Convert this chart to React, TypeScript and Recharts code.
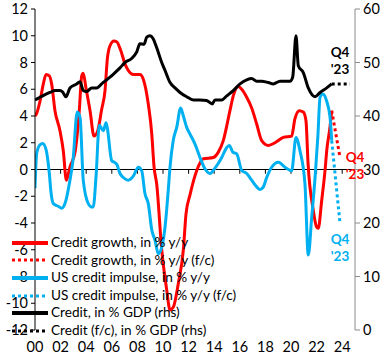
import React from "react";
import { LineChart, Line, XAxis, YAxis, ReferenceLine, ReferenceDot } from "recharts";

const FONT = "Lato, 'Liberation Sans', sans-serif";

const xTicks = [2000, 2002, 2004, 2006, 2008, 2010, 2012, 2014, 2016, 2018, 2020, 2022, 2024];
const xTickLabels = ["00", "02", "04", "06", "08", "10", "12", "14", "16", "18", "20", "22", "24"];
const leftTicks = [-12, -10, -8, -6, -4, -2, 0, 2, 4, 6, 8, 10, 12];
const rightTicks = [0, 10, 20, 30, 40, 50, 60];

// Credit growth, in % y/y (lhs)
const creditGrowth: [number, number][] = [
  [2000.0, 4.0], [2000.13, 4.2], [2000.39, 5.1], [2000.65, 6.4], [2000.86, 7.1], [2001.12, 7.0],
  [2001.3, 6.4], [2001.56, 4.4], [2001.95, 2.9], [2002.21, 1.4], [2002.45, -0.8], [2002.73, 0.2],
  [2003.13, 1.3], [2003.46, 4.4], [2003.65, 7.0], [2003.77, 7.2], [2003.98, 6.1], [2004.3, 4.4],
  [2004.61, 2.5], [2004.87, 2.8], [2005.21, 4.5], [2005.47, 5.9], [2005.65, 8.25], [2005.86, 9.25],
  [2006.17, 9.6], [2006.38, 9.55], [2006.7, 8.9], [2007.03, 7.9], [2007.29, 7.4], [2007.68, 7.1],
  [2008.2, 7.1], [2008.46, 6.75], [2008.85, 4.9], [2009.12, 2.7], [2009.3, 0.2], [2009.51, -1.1],
  [2009.9, -6.0], [2010.29, -9.0], [2010.55, -10.5], [2010.8, -10.3], [2011.2, -8.5], [2011.59, -6.0],
  [2011.8, -3.3], [2012.11, -1.9], [2012.63, -0.1], [2013.15, 0.8], [2013.93, 0.9], [2014.32, 1.3],
  [2014.71, 2.16], [2015.23, 4.4], [2015.49, 5.5], [2015.88, 6.2], [2016.15, 6.0], [2016.54, 5.4],
  [2016.93, 4.6], [2017.32, 3.4], [2017.71, 2.16], [2018.23, 1.8], [2018.75, 2.0], [2019.4, 2.4],
  [2020.05, 2.5], [2020.31, 3.8], [2020.65, 4.4], [2020.96, 4.3], [2021.17, 3.65], [2021.33, 0.5],
  [2021.74, -3.05], [2022.0, -4.3], [2022.13, -4.4], [2022.4, -2.3], [2022.66, -0.07], [2022.79, 1.4],
  [2023.05, 3.2], [2023.18, 4.4],
];
const creditGrowthFc: [number, number][] = [[2023.18, 4.4], [2023.83, 0.9]];

// US credit impulse, in % y/y (lhs)
const impulse: [number, number][] = [
  [2000.0, -1.4], [2000.13, 1.2], [2000.39, 1.85], [2000.6, 1.95], [2000.86, 1.5], [2001.12, -0.3],
  [2001.25, -1.7], [2001.43, -2.55], [2001.82, -2.75], [2002.09, -2.9], [2002.34, -2.55], [2002.73, -0.8],
  [2002.97, 0.7], [2003.3, 4.3], [2003.52, 3.9], [2003.77, -0.8], [2004.16, -2.55], [2004.43, -2.8],
  [2004.55, -2.8], [2004.77, -0.5], [2005.02, 3.3], [2005.34, 2.9], [2005.55, 3.5], [2005.65, 3.1],
  [2005.99, 0.67], [2006.17, 0.55], [2006.38, 0.4], [2006.64, -0.3], [2006.9, -0.6], [2007.29, -0.8],
  [2007.68, -0.5], [2008.07, 0.17], [2008.34, -0.1], [2008.59, -1.8], [2008.85, -2.55], [2009.12, -4.5],
  [2009.38, -5.3], [2009.63, -6.3], [2009.9, -5.8], [2010.16, -4.3], [2010.41, -1.56], [2010.55, 0.2],
  [2010.8, 2.16], [2011.07, 3.15], [2011.38, 4.6], [2011.59, 4.0], [2011.85, 3.15], [2012.11, 2.65],
  [2012.5, 1.9], [2012.89, 0.9], [2013.28, 0.05], [2013.67, -0.3], [2014.06, 0.1], [2014.59, 0.9],
  [2014.98, 1.65], [2015.18, 1.8], [2015.45, 1.3], [2015.76, 1.17], [2016.15, -0.07], [2016.54, -0.3],
  [2016.93, -0.8], [2017.32, -1.3], [2017.58, -1.5], [2017.84, -1.3], [2018.1, -0.6], [2018.49, 0.17],
  [2019.01, 0.55], [2019.53, 0.17], [2020.05, -0.1], [2020.39, 2.4], [2020.7, 1.4], [2021.09, -1.07],
  [2021.35, -6.4], [2021.62, -3.55], [2021.88, -0.6], [2022.1, 2.5], [2022.27, 5.4], [2022.48, 5.65],
  [2022.79, 5.1], [2023.05, 3.9], [2023.18, 2.16],
];
const impulseFc: [number, number][] = [[2023.18, 2.16], [2023.83, -4.05]];

// Credit, in % GDP (rhs)
const creditGdp: [number, number][] = [
  [2000.0, 43.0], [2000.39, 43.5], [2000.78, 44.0], [2001.17, 44.4], [2001.56, 44.75], [2001.95, 44.75],
  [2002.15, 44.5], [2002.42, 43.6], [2002.73, 45.25], [2003.26, 46.0], [2003.52, 46.4], [2003.77, 44.75],
  [2004.04, 44.6], [2004.43, 45.25], [2004.82, 45.25], [2005.31, 46.25], [2005.86, 47.25], [2006.25, 48.1],
  [2006.64, 49.0], [2007.03, 50.0], [2007.55, 50.75], [2007.95, 52.0], [2008.2, 53.5], [2008.52, 53.4],
  [2008.73, 54.75], [2008.98, 55.0], [2009.22, 54.5], [2009.51, 52.75], [2009.9, 50.0], [2010.16, 48.5],
  [2010.55, 46.25], [2010.94, 45.25], [2011.33, 44.4], [2011.85, 43.6], [2012.37, 43.0], [2012.89, 43.0],
  [2013.41, 42.9], [2013.85, 42.25], [2014.06, 43.0], [2014.59, 43.0], [2014.98, 43.75], [2015.49, 44.75],
  [2016.02, 46.0], [2016.54, 46.75], [2016.93, 47.0], [2017.32, 46.5], [2017.71, 46.5], [2018.23, 46.25],
  [2018.62, 46.0], [2019.14, 46.5], [2019.92, 46.5], [2020.13, 47.25], [2020.39, 55.0], [2020.57, 49.4],
  [2020.96, 48.1], [2021.35, 45.25], [2021.88, 43.6], [2022.27, 44.4], [2022.79, 45.25], [2023.18, 46.0],
];
const creditGdpFc: [number, number][] = [[2023.18, 46.0], [2024.6, 46.0]];

const RED = "#FF0000";
const BLUE = "#00B0F0";
const BLACK = "#000000";

const rows = (pts: [number, number][]) => pts.map(([x, v]) => ({ x, v }));

const legendItems = [
  { label: "Credit growth, in % y/y", color: RED, dotted: false },
  { label: "Credit growth, in % y/y (f/c)", color: RED, dotted: true },
  { label: "US credit impulse, in % y/y", color: BLUE, dotted: false },
  { label: "US credit impulse, in % y/y (f/c)", color: BLUE, dotted: true },
  { label: "Credit, in % GDP (rhs)", color: BLACK, dotted: false },
  { label: "Credit (f/c), in % GDP (rhs)", color: BLACK, dotted: true },
];

const QLabel = (props: any) => {
  const { viewBox, color } = props;
  const cx = viewBox.x + (viewBox.width || 0) / 2;
  const cy = viewBox.y + (viewBox.height || 0) / 2;
  return (
    <text x={cx} y={cy} fill={color} fontSize={13.5} fontWeight="bold" fontFamily={FONT} textAnchor="middle">
      <tspan x={cx} dy="0.35em">Q4</tspan>
      <tspan x={cx} dy="17">'23</tspan>
    </text>
  );
};

const TICK_FONT = { fontSize: 14.5, fill: "#000", fontFamily: FONT };

export default function App() {
  return (
    <div style={{ position: "absolute", left: 0, top: 0, width: 385, height: 360, fontFamily: FONT }}>
      <LineChart width={385} height={360} margin={{ top: 9, right: 0, bottom: 0, left: 0 }}>
        <XAxis
          type="number"
          dataKey="x"
          domain={[2000, 2025]}
          ticks={xTicks}
          tickFormatter={(t: number) => xTickLabels[xTicks.indexOf(t)] ?? ""}
          axisLine={false}
          tickLine={false}
          height={30}
          tickSize={6}
          tickMargin={6}
          allowDataOverflow
          interval={0}
          tick={TICK_FONT}
        />
        <YAxis
          yAxisId="left"
          domain={[-12, 12]}
          ticks={leftTicks}
          width={35}
          interval={0}
          axisLine={{ stroke: "#000" }}
          tickLine={{ stroke: "#000" }}
          tickSize={4}
          tickMargin={3}
          tick={TICK_FONT}
        />
        <YAxis
          yAxisId="right"
          orientation="right"
          domain={[0, 60]}
          ticks={rightTicks}
          width={30}
          interval={0}
          axisLine={{ stroke: "#8c8c8c" }}
          tickLine={{ stroke: "#8c8c8c" }}
          tickSize={5}
          tickMargin={3}
          tick={TICK_FONT}
        />
        <ReferenceLine yAxisId="left" y={0} stroke="#000" strokeWidth={1} />
        {xTicks.slice(1).map((t) => (
          <ReferenceLine
            key={t}
            yAxisId="left"
            segment={[{ x: t, y: 0 }, { x: t, y: -0.32 }]}
            stroke="#000"
            strokeWidth={1}
          />
        ))}
        <Line data={rows(creditGrowth)} yAxisId="left" dataKey="v" stroke={RED} strokeWidth={3} dot={false} type="monotone" isAnimationActive={false} />
        <Line data={rows(creditGrowthFc)} yAxisId="left" dataKey="v" stroke={RED} strokeWidth={3} strokeDasharray="3 3" dot={false} type="linear" isAnimationActive={false} />
        <Line data={rows(impulse)} yAxisId="left" dataKey="v" stroke={BLUE} strokeWidth={3} dot={false} type="monotone" isAnimationActive={false} />
        <Line data={rows(impulseFc)} yAxisId="left" dataKey="v" stroke={BLUE} strokeWidth={3} strokeDasharray="3 3" dot={false} type="linear" isAnimationActive={false} />
        <Line data={rows(creditGdp)} yAxisId="right" dataKey="v" stroke={BLACK} strokeWidth={3} dot={false} type="monotone" isAnimationActive={false} />
        <Line data={rows(creditGdpFc)} yAxisId="right" dataKey="v" stroke={BLACK} strokeWidth={3} strokeDasharray="3 3" dot={false} type="linear" isAnimationActive={false} />
        <ReferenceDot yAxisId="right" x={2023.83} y={51.9} r={0} ifOverflow="visible" label={<QLabel color={BLACK} />} />
        <ReferenceDot yAxisId="left" x={2025.0} y={0.9} r={0} ifOverflow="visible" label={<QLabel color={RED} />} />
        <ReferenceDot yAxisId="left" x={2023.83} y={-5.2} r={0} ifOverflow="visible" label={<QLabel color={BLUE} />} />
      </LineChart>
      <div style={{ position: "absolute", left: 12, top: 234, fontFamily: FONT, fontSize: 13.6, color: "#000", lineHeight: "17.6px" }}>
        {legendItems.map((it) => (
          <div key={it.label} style={{ display: "flex", alignItems: "center", height: 17.6, whiteSpace: "nowrap" }}>
            <svg width={36} height={6} style={{ marginRight: 3 }}>
              <line
                x1={0}
                y1={3}
                x2={36}
                y2={3}
                stroke={it.color}
                strokeWidth={it.dotted ? 3 : 4}
                strokeDasharray={it.dotted ? "3 3" : undefined}
              />
            </svg>
            <span>{it.label}</span>
          </div>
        ))}
      </div>
    </div>
  );
}
